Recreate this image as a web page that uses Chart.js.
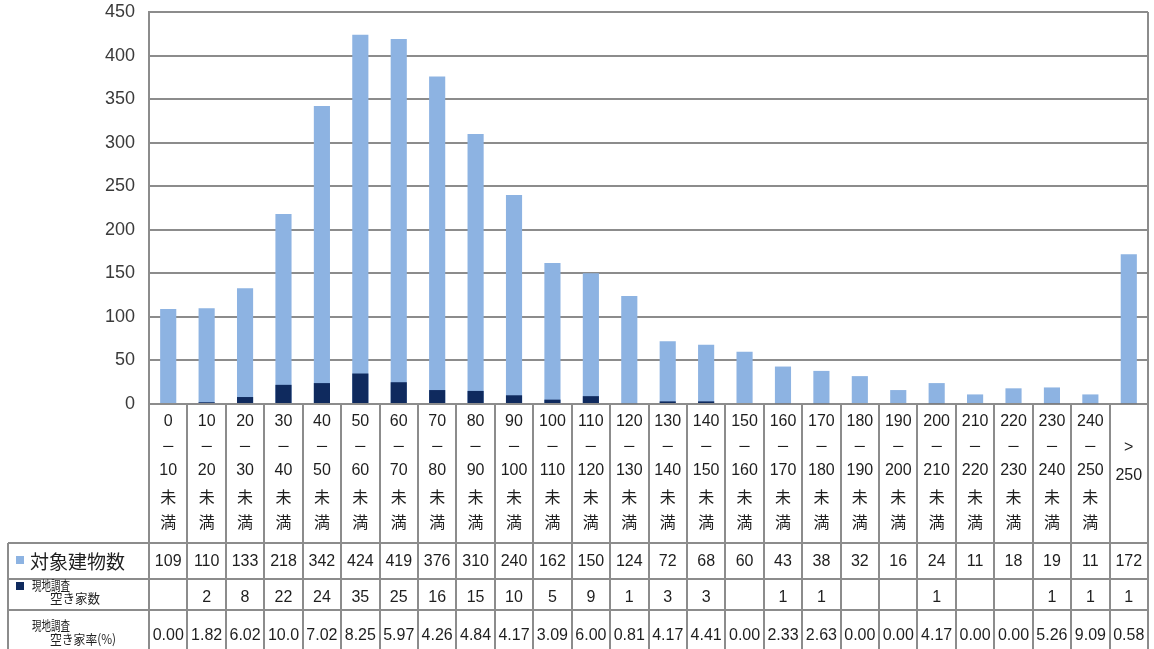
<!DOCTYPE html>
<html>
<head>
<meta charset="utf-8">
<script src="https://cdn.jsdelivr.net/npm/chart.js@4/dist/chart.umd.min.js"></script>
<style>
  html, body { margin: 0; padding: 0; background: #fff; }
  #wrap { width: 1154px; height: 649px; position: relative; }
</style>
</head>
<body>
<div id="wrap"><canvas id="c" width="1154" height="649"></canvas></div>
<script>
// Floor-area bands (㎡), one line of text per entry
const categoryLines = [
  ['0', '－', '10', '未', '満'],
  ['10', '－', '20', '未', '満'],
  ['20', '－', '30', '未', '満'],
  ['30', '－', '40', '未', '満'],
  ['40', '－', '50', '未', '満'],
  ['50', '－', '60', '未', '満'],
  ['60', '－', '70', '未', '満'],
  ['70', '－', '80', '未', '満'],
  ['80', '－', '90', '未', '満'],
  ['90', '－', '100', '未', '満'],
  ['100', '－', '110', '未', '満'],
  ['110', '－', '120', '未', '満'],
  ['120', '－', '130', '未', '満'],
  ['130', '－', '140', '未', '満'],
  ['140', '－', '150', '未', '満'],
  ['150', '－', '160', '未', '満'],
  ['160', '－', '170', '未', '満'],
  ['170', '－', '180', '未', '満'],
  ['180', '－', '190', '未', '満'],
  ['190', '－', '200', '未', '満'],
  ['200', '－', '210', '未', '満'],
  ['210', '－', '220', '未', '満'],
  ['220', '－', '230', '未', '満'],
  ['230', '－', '240', '未', '満'],
  ['240', '－', '250', '未', '満'],
  ['>', '250']
];
const categories = categoryLines.map(l => l.join(''));

// 対象建物数
const buildingCounts = [109, 110, 133, 218, 342, 424, 419, 376, 310, 240, 162, 150, 124,
                        72, 68, 60, 43, 38, 32, 16, 24, 11, 18, 19, 11, 172];
// 現地調査 空き家数 (blank cells = null)
const vacantCounts = [null, 2, 8, 22, 24, 35, 25, 16, 15, 10, 5, 9, 1,
                      3, 3, null, 1, 1, null, null, 1, null, null, 1, 1, 1];
// 現地調査 空き家率(%)
const vacancyRates = ['0.00', '1.82', '6.02', '10.0', '7.02', '8.25', '5.97', '4.26', '4.84',
                      '4.17', '3.09', '6.00', '0.81', '4.17', '4.41', '0.00', '2.33', '2.63',
                      '0.00', '0.00', '4.17', '0.00', '0.00', '5.26', '9.09', '0.58'];

const yMax = 450;
const yStep = 50;

const LIGHT = '#8db3e2';
const DARK = '#0f2a5e';
const LINE = '#8c8c8c';
const TEXT = '#1e1e1e';
const FONT = "'Liberation Sans', 'Noto Sans CJK JP', sans-serif";
const CJK = "'Noto Sans CJK JP', sans-serif";

// Data table drawn under the plot, aligned to the category scale
const dataTable = {
  id: 'dataTable',
  afterDraw(chart) {
    const { ctx, chartArea } = chart;
    const { left, right, top, bottom } = chartArea;
    const xs = chart.scales.x;
    const n = categories.length;
    const colW = (right - left) / n;
    const H = chart.height;
    const tableLeft = 8;
    const rowLines = [543, 579, 610];

    ctx.save();
    ctx.strokeStyle = LINE;
    ctx.lineWidth = 2;
    ctx.beginPath();
    // right frame of the plot and table
    ctx.moveTo(right, top); ctx.lineTo(right, H);
    // column separators
    for (let i = 0; i < n; i++) {
      const x = Math.round(left + i * colW);
      ctx.moveTo(x, bottom); ctx.lineTo(x, H);
    }
    // row separators
    rowLines.forEach(y => { ctx.moveTo(tableLeft, y); ctx.lineTo(right, y); });
    ctx.moveTo(tableLeft, rowLines[0]); ctx.lineTo(tableLeft, H);
    ctx.stroke();

    ctx.fillStyle = TEXT;
    ctx.textAlign = 'center';
    ctx.textBaseline = 'middle';

    // category header
    const lineY = [422, 446, 471, 497, 522];
    categoryLines.forEach((lines, i) => {
      const cx = xs.getPixelForValue(i);
      if (lines.length === 5) {
        lines.forEach((t, k) => {
          if (k === 1) {
            ctx.font = '16px ' + CJK;
            ctx.fillText(t, cx, lineY[k], 14);
          } else {
            ctx.font = (k >= 3 ? '16px ' + CJK : '16px ' + FONT);
            ctx.fillText(t, cx, lineY[k]);
          }
        });
      } else {
        ctx.font = '16px ' + FONT;
        ctx.fillText(lines[0], cx, 448);
        ctx.fillText(lines[1], cx, 476);
      }
    });

    // value rows
    ctx.font = '16px ' + FONT;
    for (let i = 0; i < n; i++) {
      const cx = xs.getPixelForValue(i);
      ctx.fillText(String(buildingCounts[i]), cx, 562);
      if (vacantCounts[i] !== null) ctx.fillText(String(vacantCounts[i]), cx, 598);
      ctx.fillText(vacancyRates[i], cx, 636, colW - 2);
    }

    // row headers with legend keys
    ctx.textAlign = 'left';
    ctx.fillStyle = LIGHT;
    ctx.fillRect(16, 556, 8, 8);
    ctx.fillStyle = DARK;
    ctx.fillRect(16, 582, 8, 8);
    ctx.fillStyle = TEXT;
    ctx.font = '19px ' + CJK;
    ctx.fillText('対象建物数', 30, 562, 100);
    ctx.font = '13px ' + CJK;
    ctx.fillText('現地調査', 32, 585, 38);
    ctx.fillText('空き家数', 50, 598, 50);
    ctx.fillText('現地調査', 32, 625, 38);
    ctx.fillText('空き家率(%)', 50, 639, 66);
    ctx.restore();
  }
};

new Chart(document.getElementById('c'), {
  type: 'bar',
  data: {
    labels: categories,
    datasets: [
      {
        label: '現地調査空き家数',
        data: vacantCounts,
        backgroundColor: DARK,
        grouped: false,
        order: 0,
        barPercentage: 0.42,
        categoryPercentage: 1
      },
      {
        label: '対象建物数',
        data: buildingCounts,
        backgroundColor: LIGHT,
        grouped: false,
        order: 1,
        barPercentage: 0.42,
        categoryPercentage: 1
      }
    ]
  },
  options: {
    responsive: false,
    animation: false,
    devicePixelRatio: 1,
    layout: { padding: { left: 0, top: 12, right: 6, bottom: 245 } },
    plugins: { legend: { display: false }, tooltip: { enabled: false } },
    scales: {
      x: { display: false, offset: true },
      y: {
        min: 0,
        max: yMax,
        ticks: { stepSize: yStep, color: '#3a3a3a', padding: 14, font: { size: 18, family: FONT } },
        grid: { color: LINE, lineWidth: 2, drawTicks: false },
        border: { display: true, color: LINE, width: 2 },
        afterFit(scale) {
          scale.width = 149;
          scale.paddingTop = 0;
          scale.paddingBottom = 0;
        }
      }
    }
  },
  plugins: [dataTable]
});
</script>
</body>
</html>
